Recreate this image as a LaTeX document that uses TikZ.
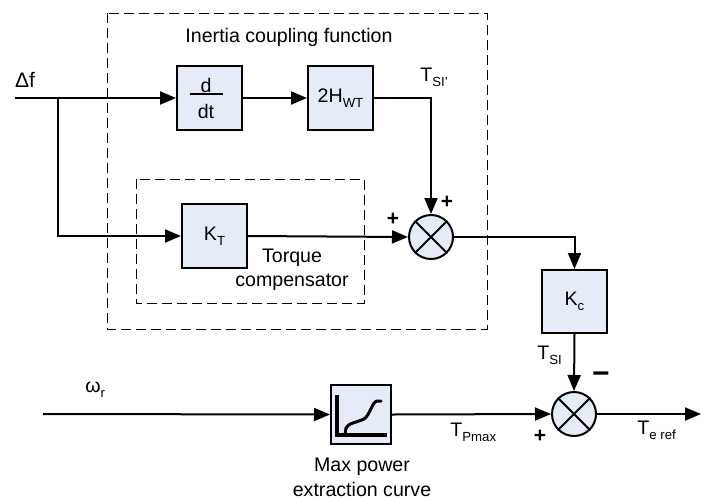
\documentclass[tikz,border=0pt]{standalone}
\usepackage{fontspec}
\setmainfont{Liberation Sans}
\usetikzlibrary{arrows.meta}
\definecolor{boxfill}{RGB}{230,236,247}
\newcommand{\lowsub}[1]{\raisebox{-0.45ex}{\fontsize{6.6}{7}\selectfont #1}}
\begin{document}
\begin{tikzpicture}[x=0.5pt,y=-0.5pt, font=\fontsize{9.8}{11.5}\selectfont,
  blk/.style={draw, line width=1pt, fill=boxfill, minimum width=32.5pt, minimum height=32pt, inner sep=0pt},
  sumnode/.style={draw, line width=1pt, fill=boxfill, circle, minimum size=22pt, inner sep=0pt},
  sig/.style={line width=1pt, -{Triangle[length=8pt,width=6.5pt]}},
  wire/.style={line width=1pt},
  dbox/.style={line width=0.5pt, dash pattern=on 5pt off 2.5pt},
  lbl/.style={inner sep=0pt},
  sgn/.style={inner sep=0pt, font=\fontsize{10.5}{12}\selectfont\bfseries}]
\useasboundingbox (0,0) rectangle (701,499);
% dashed frames
\draw[dbox] (107,13) rectangle (487,329);
\draw[dbox] (136,179) rectangle (364,303);
% blocks
\node[blk] (ddt) at (209.5,98) {};
\draw[line width=0.6pt] (190,94) -- (223,94);
\node[lbl] (dtxt) at (206,85) {d};
\node[lbl] (dttxt) at (206,111) {dt};
\node[blk] (hwt) at (340.5,98) {2H\lowsub{WT}};
\node[blk] (kt) at (214.5,236) {K\lowsub{T}};
\node[sumnode] (s1) at (431,237) {};
\draw[line width=1pt] (s1.north east) -- (s1.south west) (s1.north west) -- (s1.south east);
\node[blk, minimum height=31.5pt] (kc) at (574.5,301.5) {K\lowsub{c}};
\node[sumnode] (s2) at (574,414) {};
\draw[line width=1pt] (s2.north east) -- (s2.south west) (s2.north west) -- (s2.south east);
\node[blk, minimum width=30pt, minimum height=29.5pt] (mpc) at (361,414.5) {};
\draw[line width=2pt] (337,395) -- (337,435) -- (387,435);
\draw[line width=1.5pt, line cap=round] (345,435) -- (346,428) .. controls (348,423) and (358,422) .. (364,419) .. controls (370,415) and (372,402) .. (377,401) -- (381,401);
% coordinates
\coordinate (in) at (15,98);
\coordinate (br) at (58,98);
\coordinate (win) at (43,414);
\coordinate (out) at (701,414);
% connectors
\draw[wire] (in) -- (br);
\draw[sig] (br) -- (ddt.west);
\draw[sig] (br) |- (kt.west);
\draw[sig] (ddt.east) -- (hwt.west);
\draw[sig] (hwt.east) -| (s1.north);
\draw[sig] (kt.east) -- (s1.west);
\draw[sig] (s1.east) -| (kc.north);
\draw[sig] (kc.south) -- (s2.north);
\draw[sig] (win) -- (mpc.west);
\draw[sig] (mpc.east) -- (s2.west);
\draw[sig] (s2.east) -- (out);
% labels
\node[lbl] (title) at (289,37) {Inertia coupling function};
\node[lbl, font=\fontsize{10.5}{12}\selectfont] (df) at (25,80) {Δf};
\node[lbl, anchor=west] (tsip) at (420,77) {T\lowsub{SI'}};
\node[sgn] (p1) at (447,202) {+};
\node[sgn] (p2) at (393,219) {+};
\node[lbl] (tq1) at (292,258) {Torque};
\node[lbl] (tq2) at (292,282) {compensator};
\node[lbl, anchor=west] (tsi) at (537,355) {T\lowsub{SI}};
\node[sgn, font=\fontsize{15}{16}\selectfont\bfseries] (m1) at (601,378) {\char"2212};
\node[sgn] (p3) at (540,436) {+};
\node[lbl, anchor=west] (tpm) at (450,432) {T\lowsub{Pmax}};
\node[lbl, anchor=west] (ter) at (637,430) {T\lowsub{e ref}};
\node[lbl, anchor=west] (wr) at (85,390) {ω\lowsub{r}};
\node[lbl] (mp1) at (362,467) {Max power};
\node[lbl] (mp2) at (362,489) {extraction curve};
\end{tikzpicture}
\end{document}
